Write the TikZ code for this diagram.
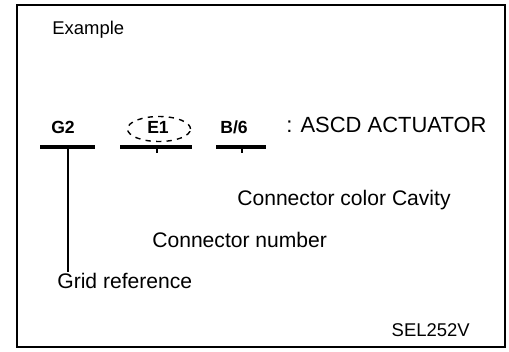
\documentclass[tikz,border=0pt]{standalone}
\usepackage{fontspec}
\setmainfont{Liberation Sans}
\usetikzlibrary{shapes.geometric}

\begin{document}
\begin{tikzpicture}[x=0.02cm,y=-0.02cm,
    lbl/.style={inner sep=0pt,font=\fontsize{12}{14}\selectfont},
    pin/.style={inner sep=0pt,font=\bfseries\fontsize{10}{12}\selectfont},
    bar/.style={line width=2.4pt},
    lead/.style={line width=1pt}]
    \useasboundingbox (0,0) rectangle (509,351);

    % Рамка
    \draw[line width=1.4pt] (17,5) rectangle (505,347);

    % Заголовок
    \node[lbl,anchor=west,font=\fontsize{10.5}{12}\selectfont] (ex) at (52,30) {Example};

    % Позначення роз'єму
    \node[pin] (g2) at (63,127) {G2};
    \node[pin] (e1) at (158,127) {E1};
    \node[draw,dashed,line width=0.8pt,ellipse,minimum width=1.26cm,
          minimum height=0.5cm] (ring) at (159,129) {};
    \node[pin] (b6) at (234,127) {B/6};
    \node[lbl,anchor=west,font=\fontsize{12.5}{14}\selectfont] (act) at (286,125) {: ASCD ACTUATOR};

    % Риски під позначеннями
    \coordinate (g2l) at (40,147);  \coordinate (g2r) at (95,147);
    \coordinate (e1l) at (120,147); \coordinate (e1r) at (192,147);
    \coordinate (b6l) at (216,147); \coordinate (b6r) at (266,147);
    \draw[bar] (g2l) -- (g2r);
    \draw[bar] (e1l) -- (e1r);
    \draw[bar] (b6l) -- (b6r);
    \draw[lead] (157,147) -- (157,153);
    \draw[lead] (242,147) -- (242,153);

    % Підписи
    \node[lbl,anchor=west] (cav) at (237,200) {Connector color Cavity};
    \node[lbl,anchor=west] (num) at (152,240) {Connector number};
    \node[lbl,anchor=west] (grid) at (57,281) {Grid reference};
    \coordinate (g2m) at (68,147);
    \draw[lead] (g2m) -- (68,272);

    \node[lbl,anchor=east,font=\fontsize{10.5}{12}\selectfont] (sel) at (470,330) {SEL252V};
\end{tikzpicture}
\end{document}
